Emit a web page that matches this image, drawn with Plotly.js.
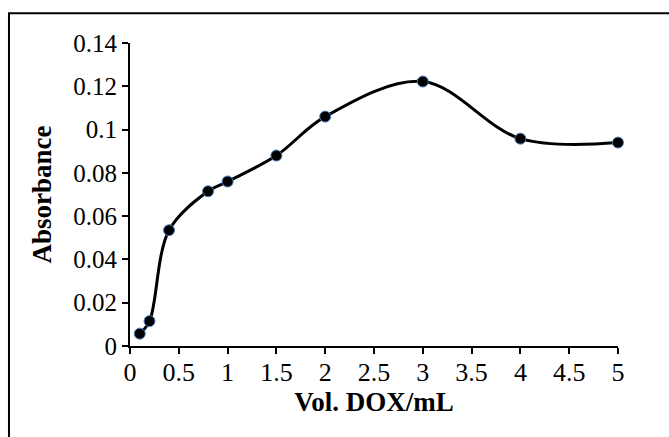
<!DOCTYPE html>
<html>
<head>
<meta charset="utf-8">
<script src="https://cdn.plot.ly/plotly-3.0.1.min.js"></script>
<style>html,body{margin:0;padding:0;background:#fff;}#chart{width:669px;height:437px;}</style>
</head>
<body>
<div id="chart"></div>
<script>
// Data
const volDOX = [0.1, 0.2, 0.4, 0.8, 1, 1.5, 2, 3, 4, 5];
const absorbance = [0.0057, 0.0115, 0.0535, 0.0715, 0.076, 0.088, 0.106, 0.1222, 0.0958, 0.094];
const xTicks = [0, 0.5, 1, 1.5, 2, 2.5, 3, 3.5, 4, 4.5, 5];
const yTicks = [0, 0.02, 0.04, 0.06, 0.08, 0.1, 0.12, 0.14];
const xTitle = 'Vol. DOX/mL';
const yTitle = 'Absorbance';

const FONT = '"Liberation Serif", "Times New Roman", serif';

const trace = {
  x: volDOX,
  y: absorbance,
  type: 'scatter',
  mode: 'lines+markers',
  line: {shape: 'spline', smoothing: 1, color: '#000', width: 3},
  marker: {size: 11, color: '#000', line: {color: '#4a7fc0', width: 1}},
  showlegend: false,
  cliponaxis: false
};

const layout = {
  width: 669,
  height: 437,
  margin: {l: 130, r: 51, t: 43, b: 91},
  paper_bgcolor: '#fff',
  plot_bgcolor: '#fff',
  font: {family: FONT, color: '#000'},
  xaxis: {
    range: [0, 5],
    tickvals: xTicks,
    ticktext: xTicks.map(String),
    showgrid: false,
    zeroline: false,
    showline: true,
    linecolor: '#000',
    linewidth: 2,
    ticks: 'outside',
    ticklen: 6,
    tickwidth: 2,
    tickcolor: '#000',
    ticklabelstandoff: -4,
    tickfont: {family: FONT, size: 26, color: '#000'},
    title: {text: '<b>' + xTitle + '</b>', font: {family: FONT, size: 27, color: '#000'}, standoff: 4}
  },
  yaxis: {
    range: [0, 0.14],
    tickvals: yTicks,
    ticktext: yTicks.map(String),
    showgrid: false,
    zeroline: false,
    showline: true,
    linecolor: '#000',
    linewidth: 2,
    ticks: 'outside',
    ticklen: 6,
    tickwidth: 2,
    tickcolor: '#000',
    tickfont: {family: FONT, size: 25, color: '#000'},
    title: {text: '<b>' + yTitle + '</b>', font: {family: FONT, size: 27, color: '#000'}, standoff: 14}
  },
  shapes: [{
    type: 'rect', xref: 'paper', yref: 'paper',
    x0: -0.248, x1: 1.2, y0: -0.4, y1: 1.098,
    line: {color: '#000', width: 2}, fillcolor: 'rgba(0,0,0,0)', layer: 'below'
  }]
};

Plotly.newPlot('chart', [trace], layout, {staticPlot: true, displayModeBar: false});
</script>
</body>
</html>
